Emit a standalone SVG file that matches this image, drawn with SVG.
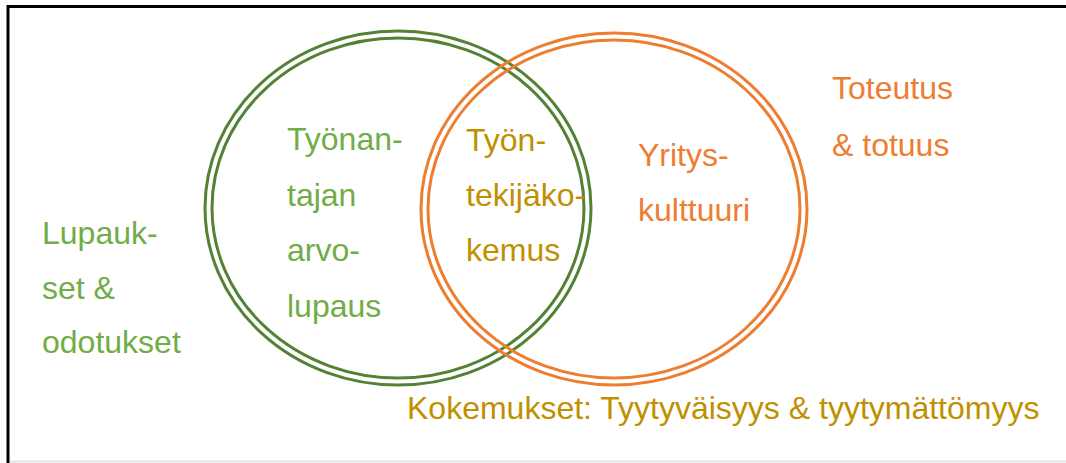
<svg xmlns="http://www.w3.org/2000/svg" width="1066" height="463" viewBox="0 0 1066 463">
  <style>
    text { font-family: "Liberation Sans", Arial, sans-serif; font-size: 32px; }
    .ring { fill: none; stroke-width: 3; }
    .g-ring { stroke: #548235; }
    .o-ring { stroke: #ED7D31; }
    .t-green { fill: #70AD47; }
    .t-orange { fill: #ED7D31; }
    .t-gold { fill: #BF9000; }
  </style>
  <rect width="1066" height="463" fill="#ffffff"/>
  <!-- frame -->
  <line x1="10" y1="461.5" x2="1066" y2="461.5" stroke="#e3e3e3" stroke-width="2"/>
  <path d="M8,463 V6.5 H1066" fill="none" stroke="#000000" stroke-width="3"/>

  <!-- left set: employer -->
  <g id="set-employer">
    <ellipse class="ring g-ring" cx="398" cy="208" rx="193" ry="177"/>
    <ellipse class="ring g-ring" cx="398" cy="208" rx="186" ry="170"/>
    <text class="t-green" x="287" y="150">Työnan-</text>
    <text class="t-green" x="287" y="205.5">tajan</text>
    <text class="t-green" x="287" y="261">arvo-</text>
    <text class="t-green" x="287" y="316.5">lupaus</text>
  </g>

  <!-- right set: company culture -->
  <g id="set-culture">
    <ellipse class="ring o-ring" cx="614" cy="209" rx="193" ry="176"/>
    <ellipse class="ring o-ring" cx="614" cy="209" rx="186" ry="169"/>
    <text class="t-orange" x="638" y="166">Yritys-</text>
    <text class="t-orange" x="638" y="221">kulttuuri</text>
  </g>

  <!-- overlap -->
  <g id="overlap">
    <text class="t-gold" x="466" y="151">Työn-</text>
    <text class="t-gold" x="466" y="206">tekijäko-</text>
    <text class="t-gold" x="466" y="261">kemus</text>
  </g>

  <g id="label-promises">
    <text class="t-green" x="42" y="243.5">Lupauk-</text>
    <text class="t-green" x="42" y="298.5">set &amp;</text>
    <text class="t-green" x="42" y="353">odotukset</text>
  </g>

  <g id="label-reality">
    <text class="t-orange" x="832" y="99">Toteutus</text>
    <text class="t-orange" x="832" y="155.5">&amp; totuus</text>
  </g>

  <g id="label-experiences">
    <text class="t-gold" x="407" y="419">Kokemukset: Tyytyväisyys &amp; tyytymättömyys</text>
  </g>

  <g id="connectors"/>
</svg>
